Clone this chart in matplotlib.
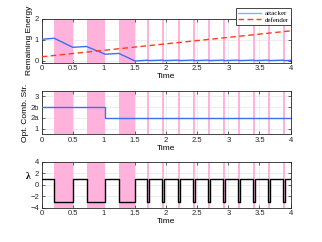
import matplotlib
matplotlib.use("Agg")
import matplotlib.pyplot as plt
import numpy as np

# ---- data ----
attack_start = [0.20, 0.72, 1.24, 1.70, 1.94, 2.19, 2.43, 2.67, 2.91, 3.15, 3.40, 3.64, 3.88]
attack_end   = [0.50, 1.02, 1.50, 1.73, 1.97, 2.22, 2.46, 2.70, 2.94, 3.18, 3.43, 3.67, 3.91]

t_att = [0, 0.20, 0.50, 0.72, 1.02, 1.24, 1.50, 1.70, 1.73, 1.94, 1.97, 2.19, 2.22,
         2.43, 2.46, 2.67, 2.70, 2.91, 2.94, 3.15, 3.18, 3.40, 3.43, 3.64, 3.67,
         3.88, 3.91, 4.0]
e_att = [1.03, 1.08, 0.65, 0.69, 0.32, 0.36, 0.0, 0.04, 0.02, 0.04, 0.02, 0.04, 0.02,
         0.04, 0.02, 0.04, 0.02, 0.04, 0.02, 0.04, 0.02, 0.04, 0.02, 0.04, 0.02,
         0.04, 0.02, 0.03]
t_def = [0, 4]
e_def = [0.20, 1.43]

t_strat = [0, 1.02, 1.02, 4]
strat = [3, 3, 2, 2]
strat_ticks = [1, 2, 3, 4]
strat_labels = ['1', '2a', '2b', '3']

lam_hi, lam_lo = 1, -3

time_ticks = [0, 0.5, 1, 1.5, 2, 2.5, 3, 3.5, 4]
time_labels = ['0', '0.5', '1', '1.5', '2', '2.5', '3', '3.5', '4']

# ---- figure ----
plt.rcParams['font.family'] = ['Liberation Sans', 'DejaVu Sans']
plt.rcParams['font.size'] = 5.5
fig = plt.figure(figsize=(3.22, 2.42), dpi=100)

pink = '#ffb3dc'
blue = '#3a6ff0'
grid_c = '#e6e6e6'
box_c = '#262626'

def style(ax):
    ax.set_xlim(0, 4)
    ax.set_xticks(time_ticks)
    ax.set_xticklabels(time_labels)
    ax.tick_params(direction='in', length=2, width=0.5, top=True, right=True,
                   labelsize=5.5, pad=2, colors='#262626')
    for s in ax.spines.values():
        s.set_linewidth(0.6)
        s.set_color(box_c)
    ax.grid(True, color=grid_c, linewidth=0.5)
    ax.set_axisbelow(True)
    for a, b in zip(attack_start, attack_end):
        ax.axvspan(a, b, color=pink, linewidth=0, zorder=1)
    ax.set_xlabel('Time', fontsize=6, labelpad=0.5)

ax1 = fig.add_axes([0.1295, 0.741, 0.773, 0.181])
ax2 = fig.add_axes([0.1295, 0.445, 0.773, 0.180])
ax3 = fig.add_axes([0.1295, 0.142, 0.773, 0.190])

style(ax1)
ax1.plot(t_att, e_att, color=blue, lw=1.0, zorder=3, label='attacker')
ax1.plot(t_def, e_def, color='#ff3b1a', lw=1.0, ls=(0, (4, 2.5)), zorder=3, label='defender')
ax1.set_ylim(-0.08, 2)
ax1.set_yticks([0, 1, 2])
ax1.set_ylabel('Remaining Energy', fontsize=6, labelpad=1)
leg = ax1.legend(loc='lower right', bbox_to_anchor=(1.0, 0.87), borderaxespad=0,
                 prop={'family': 'Liberation Serif', 'size': 5}, frameon=True,
                 fancybox=False, edgecolor='#262626', framealpha=1,
                 borderpad=0.25, handlelength=3.4, labelspacing=0.15,
                 handletextpad=0.5)
leg.get_frame().set_linewidth(0.6)
leg.get_lines()[0].set_color('#80b3ff')

style(ax2)
ax2.plot(t_strat, strat, color=blue, lw=1.0, zorder=3)
ax2.set_ylim(0.5, 4.5)
ax2.set_yticks(strat_ticks)
ax2.set_yticklabels(strat_labels)
ax2.set_ylabel('Opt. Comb. Str.', fontsize=6, labelpad=1)

style(ax3)
tl = [0.0]
lv = [lam_hi]
for a, b in zip(attack_start, attack_end):
    tl += [a, a, b, b]
    lv += [lam_hi, lam_lo, lam_lo, lam_hi]
tl.append(4.0)
lv.append(lam_hi)
ax3.plot(tl, lv, color='black', lw=1.0, zorder=3)
ax3.set_ylim(-4, 4)
ax3.set_yticks([-4, -2, 0, 2, 4])
ax3.set_ylabel('λ', fontsize=7, rotation=0, family='Liberation Serif',
               fontweight='bold', va='center', ha='center')
ax3.yaxis.set_label_coords(-0.055, 0.68)

fig.savefig('out.png', dpi=100)
